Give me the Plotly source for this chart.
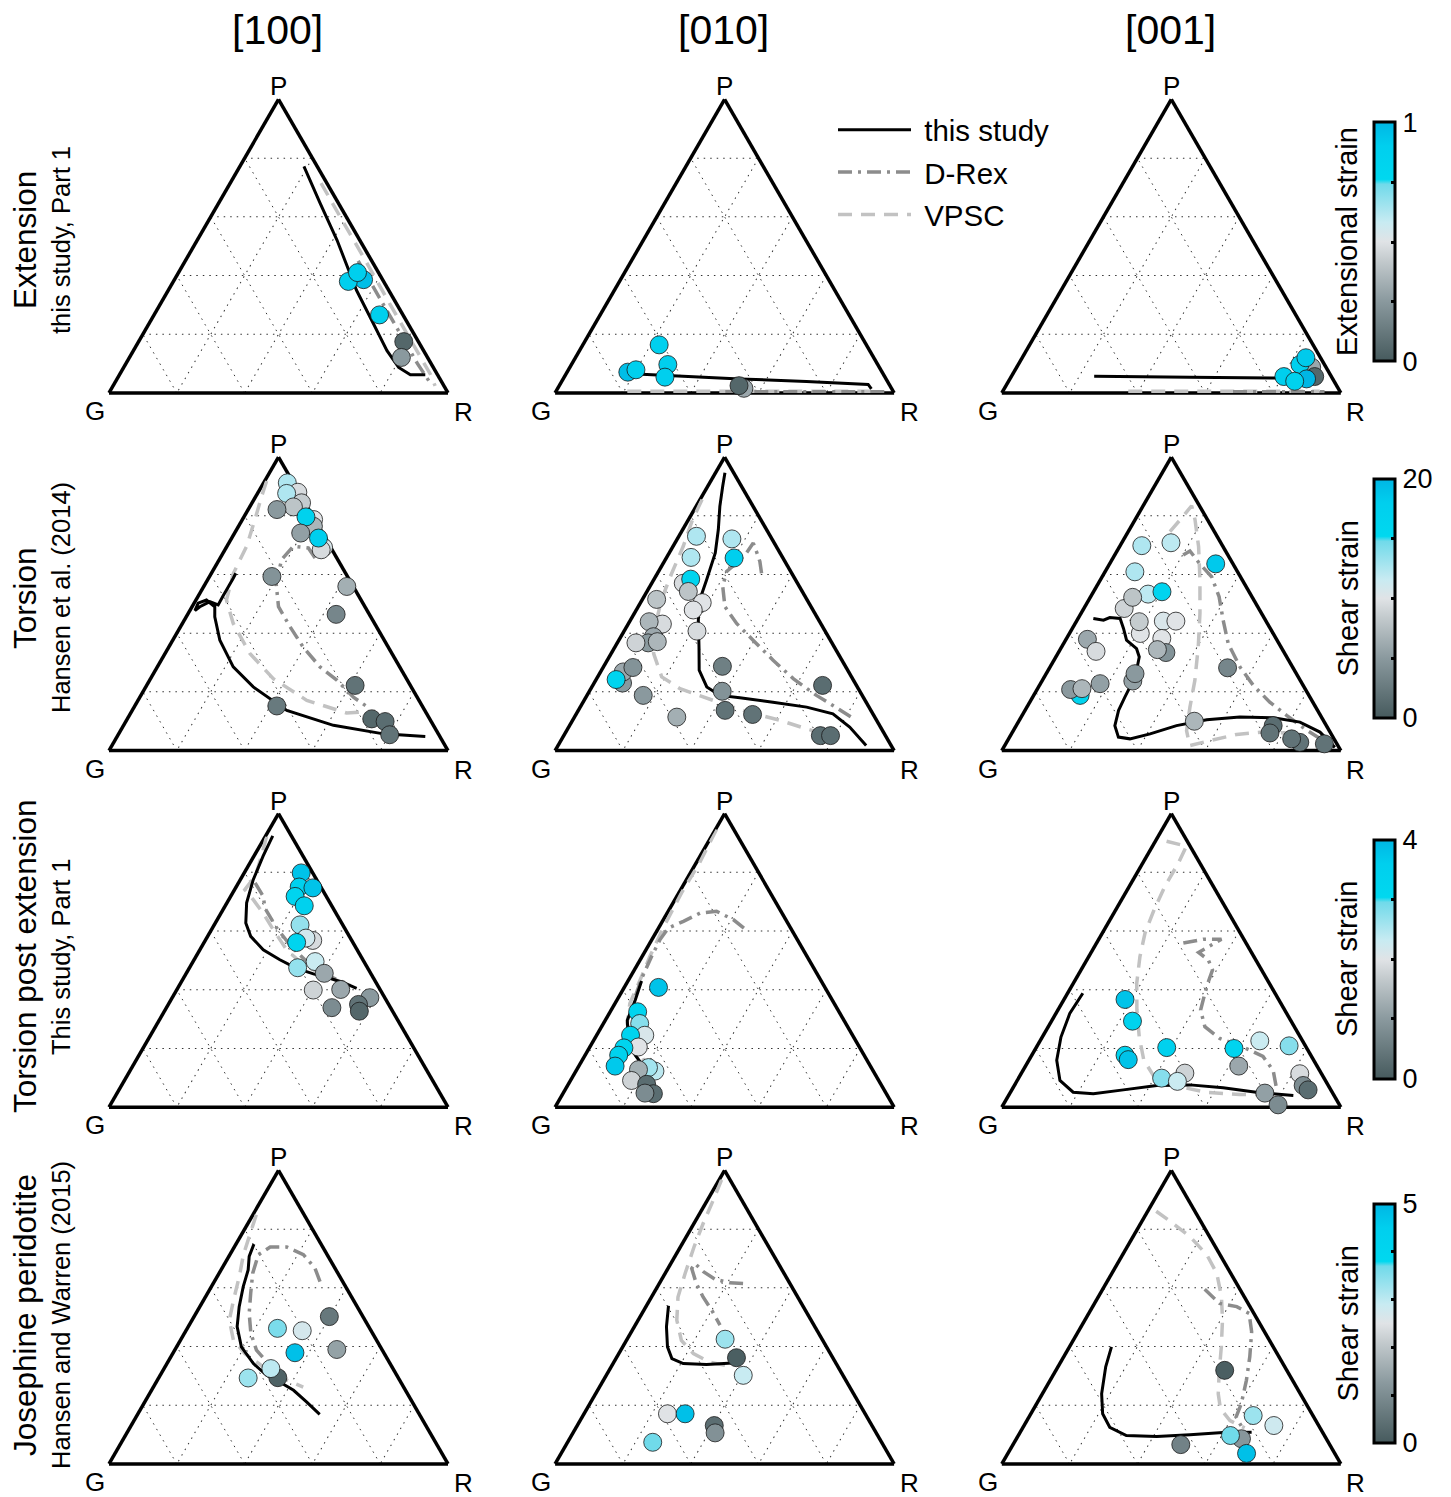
import plotly.graph_objects as go

# Page is rendered inside <body> with an 8px default margin; positions below are
# measured in window pixels and converted through px2x / px2y.
PAGE_OFF = 8
WIN_W, WIN_H = 1451, 1497
FIG_W, FIG_H = WIN_W - 2 * PAGE_OFF, WIN_H - PAGE_OFF
FONT = "Liberation Sans, Arial, sans-serif"

COL_TITLES = ["[100]", "[010]", "[001]"]
ROW_TITLES = ["Extension", "Torsion", "Torsion post extension", "Josephine peridotite"]
ROW_SUBTITLES = ["this study, Part 1", "Hansen et al. (2014)", "This study, Part 1", "Hansen and Warren (2015)"]
CBAR_TITLES = ["Extensional strain", "Shear strain", "Shear strain", "Shear strain"]
CBAR_TICKS = [[0, 0.25, 0.5, 0.75, 1], [0, 5, 10, 15, 20], [0, 1, 2, 3, 4], [0, 1, 2, 3, 4, 5]]
VERTEX_LABELS = ["P", "G", "R"]

# ---- data: points (P, R, strain), curves (P, R); G = 1 - P - R ----
ext_100_pts = [(0.386, 0.558, 0.97), (0.380, 0.516, 0.90), (0.410, 0.528, 0.90), (0.266, 0.665, 0.88),
               (0.175, 0.782, 0.05), (0.121, 0.802, 0.25)]
ext_100_this = [(0.772, 0.189), (0.646, 0.300), (0.521, 0.412), (0.349, 0.556), (0.235, 0.663),
                (0.144, 0.748), (0.087, 0.811), (0.062, 0.858), (0.062, 0.902)]
ext_100_drex = [(0.45, 0.51), (0.30, 0.66), (0.19, 0.77), (0.10, 0.86), (0.03, 0.935)]
ext_100_vpsc = [(0.715, 0.268), (0.60, 0.382), (0.45, 0.532), (0.30, 0.680), (0.15, 0.830), (0.064, 0.916), (0.024, 0.950)]

ext_010_pts = [(0.164, 0.225, 0.88), (0.071, 0.179, 0.97), (0.079, 0.199, 0.88), (0.097, 0.284, 0.90),
               (0.054, 0.297, 0.90), (0.016, 0.549, 0.30), (0.025, 0.530, 0.05)]
ext_010_this = [(0.065, 0.208), (0.048, 0.521), (0.039, 0.722), (0.029, 0.909), (0.014, 0.926)]
ext_010_drex = [(0.004, 0.50), (0.004, 0.97)]
ext_010_vpsc = [(0.006, 0.21), (0.006, 0.50), (0.006, 0.93)]

ext_001_pts = [(0.088, 0.870, 0.30), (0.097, 0.831, 0.88), (0.120, 0.837, 0.92), (0.056, 0.895, 0.05),
               (0.048, 0.875, 1.00), (0.056, 0.804, 0.90), (0.040, 0.844, 0.85)]
ext_001_this = [(0.057, 0.244), (0.054, 0.528), (0.051, 0.785)]
ext_001_drex = [(0.004, 0.68), (0.004, 0.95)]
ext_001_vpsc = [(0.006, 0.37), (0.006, 0.65), (0.006, 0.935)]

tor_100_pts = [(0.912, 0.070, 12.5), (0.880, 0.117, 9.5), (0.876, 0.086, 12.5), (0.844, 0.146, 8.5),
               (0.830, 0.129, 8), (0.821, 0.085, 5), (0.787, 0.210, 10), (0.764, 0.221, 7),
               (0.796, 0.183, 17), (0.741, 0.195, 5.5), (0.692, 0.287, 10.5), (0.684, 0.284, 9.5),
               (0.724, 0.256, 18), (0.593, 0.184, 4.5), (0.559, 0.422, 6.5), (0.464, 0.438, 3.5),
               (0.222, 0.615, 2), (0.152, 0.419, 2.5), (0.108, 0.721, 1), (0.099, 0.765, 1.5),
               (0.054, 0.801, 2)]
tor_100_this = [(0.048, 0.909), (0.057, 0.781), (0.086, 0.619), (0.137, 0.456), (0.217, 0.317),
                (0.285, 0.224), (0.376, 0.139), (0.456, 0.084), (0.490, 0.067), (0.513, 0.031),
                (0.502, 0.012), (0.477, 0.015), (0.490, 0.023), (0.507, 0.044), (0.496, 0.074),
                (0.525, 0.073), (0.559, 0.073), (0.587, 0.073), (0.604, 0.072)]
tor_100_drex = [(0.656, 0.280), (0.690, 0.243), (0.696, 0.196), (0.650, 0.184), (0.570, 0.208),
                (0.490, 0.255), (0.422, 0.323), (0.353, 0.396), (0.285, 0.480), (0.240, 0.552),
                (0.182, 0.630), (0.143, 0.698)]
tor_100_vpsc = [(0.918, 0.006), (0.867, 0.017), (0.787, 0.037), (0.696, 0.058), (0.604, 0.065),
                (0.513, 0.090), (0.433, 0.150), (0.331, 0.250), (0.245, 0.362), (0.171, 0.498),
                (0.128, 0.637), (0.135, 0.718)]

tor_010_pts = [(0.730, 0.052, 12.5), (0.721, 0.161, 12.5), (0.656, 0.200, 18), (0.658, 0.072, 12.5),
               (0.570, 0.093, 9.5), (0.584, 0.108, 16.5), (0.542, 0.122, 8), (0.504, 0.182, 10),
               (0.479, 0.168, 10), (0.407, 0.215, 9.5), (0.515, 0.042, 8), (0.431, 0.101, 9.5),
               (0.439, 0.058, 7), (0.388, 0.096, 6), (0.367, 0.091, 5), (0.371, 0.116, 7),
               (0.367, 0.055, 9), (0.230, 0.084, 5), (0.268, 0.067, 6), (0.283, 0.088, 4.5),
               (0.242, 0.059, 16.5), (0.188, 0.166, 5), (0.114, 0.302, 6.5), (0.287, 0.350, 3),
               (0.202, 0.392, 4.5), (0.137, 0.433, 2), (0.123, 0.521, 2), (0.222, 0.678, 1.5),
               (0.051, 0.757, 1.5), (0.051, 0.787, 1.5)]
tor_010_this = [(0.946, 0.028), (0.901, 0.044), (0.832, 0.070), (0.753, 0.105), (0.673, 0.136),
                (0.582, 0.156), (0.513, 0.170), (0.445, 0.200), (0.353, 0.248), (0.274, 0.288),
                (0.217, 0.339), (0.188, 0.392), (0.180, 0.455), (0.165, 0.560), (0.148, 0.668),
                (0.125, 0.757), (0.080, 0.829), (0.017, 0.909)]
tor_010_drex = [(0.604, 0.307), (0.644, 0.282), (0.678, 0.255), (0.707, 0.231), (0.673, 0.228),
                (0.639, 0.216), (0.610, 0.201), (0.559, 0.215), (0.490, 0.256), (0.433, 0.319),
                (0.376, 0.396), (0.308, 0.489), (0.245, 0.580), (0.188, 0.677), (0.146, 0.757),
                (0.114, 0.817)]
tor_010_vpsc = [(0.855, 0.006), (0.787, 0.012), (0.696, 0.030), (0.604, 0.042), (0.513, 0.057),
                (0.422, 0.084), (0.331, 0.125), (0.251, 0.189), (0.211, 0.263), (0.171, 0.381),
                (0.133, 0.498), (0.103, 0.612), (0.074, 0.705), (0.057, 0.762)]

tor_001_pts = [(0.698, 0.064, 12.5), (0.708, 0.145, 12), (0.636, 0.313, 18.5), (0.609, 0.088, 12.5),
               (0.533, 0.165, 12), (0.541, 0.202, 16.5), (0.484, 0.119, 9), (0.522, 0.125, 8),
               (0.399, 0.209, 10), (0.439, 0.186, 8.5), (0.441, 0.256, 10.5), (0.441, 0.293, 10),
               (0.382, 0.281, 10), (0.334, 0.317, 4.5), (0.344, 0.287, 7), (0.379, 0.063, 6),
               (0.338, 0.109, 9.5), (0.237, 0.268, 5.5), (0.262, 0.262, 5), (0.228, 0.176, 5.5),
               (0.188, 0.137, 16.5), (0.208, 0.099, 5), (0.211, 0.131, 7), (0.282, 0.525, 3.5),
               (0.100, 0.518, 7), (0.085, 0.758, 1.5), (0.060, 0.761, 2), (0.028, 0.865, 2),
               (0.040, 0.835, 2), (0.023, 0.940, 2)]
tor_001_this = [(0.450, 0.045), (0.444, 0.078), (0.453, 0.092), (0.450, 0.124), (0.416, 0.151),
                (0.376, 0.180), (0.347, 0.224), (0.319, 0.246), (0.273, 0.261), (0.228, 0.269),
                (0.182, 0.272), (0.137, 0.276), (0.085, 0.291), (0.046, 0.321), (0.040, 0.358),
                (0.057, 0.409), (0.085, 0.473), (0.105, 0.552), (0.114, 0.645), (0.112, 0.745),
                (0.097, 0.831), (0.063, 0.907), (0.011, 0.977)]
tor_001_drex = [(0.666, 0.202), (0.680, 0.215), (0.636, 0.266), (0.592, 0.323), (0.524, 0.379),
                (0.444, 0.431), (0.364, 0.486), (0.285, 0.560), (0.222, 0.631), (0.165, 0.708),
                (0.120, 0.780), (0.074, 0.857), (0.034, 0.931)]
tor_001_vpsc = [(0.746, 0.123), (0.786, 0.133), (0.834, 0.143), (0.786, 0.177), (0.695, 0.233),
                (0.581, 0.294), (0.467, 0.351), (0.353, 0.403), (0.239, 0.450), (0.148, 0.481),
                (0.068, 0.511), (0.017, 0.546), (0.034, 0.597), (0.055, 0.665), (0.063, 0.740),
                (0.059, 0.820)]

tpe_100_pts = [(0.798, 0.168, 3.8), (0.750, 0.186, 3.5), (0.747, 0.228, 3.8), (0.718, 0.190, 3.3),
               (0.686, 0.233, 3.5), (0.621, 0.253, 2.7), (0.568, 0.317, 1.9), (0.576, 0.293, 2.2),
               (0.561, 0.273, 3.3), (0.496, 0.360, 2.3), (0.475, 0.319, 2.7), (0.456, 0.407, 1.2),
               (0.399, 0.403, 1.8), (0.401, 0.483, 1.2), (0.373, 0.583, 1.0), (0.350, 0.561, 0.4),
               (0.327, 0.575, 0.2), (0.339, 0.488, 0.8)]
tpe_100_this = [(0.924, 0.021), (0.855, 0.027), (0.775, 0.038), (0.696, 0.058), (0.627, 0.090),
                (0.582, 0.127), (0.536, 0.187), (0.502, 0.253), (0.473, 0.317), (0.454, 0.376),
                (0.439, 0.432), (0.424, 0.480), (0.405, 0.528)]
tpe_100_drex = [(0.764, 0.049), (0.718, 0.096), (0.678, 0.121), (0.610, 0.190), (0.553, 0.257),
                (0.496, 0.335), (0.445, 0.430), (0.416, 0.503)]
tpe_100_vpsc = [(0.921, 0.004), (0.855, 0.022), (0.787, 0.038), (0.741, 0.030), (0.707, 0.072),
                (0.661, 0.124), (0.604, 0.183), (0.536, 0.256), (0.485, 0.331), (0.445, 0.420),
                (0.416, 0.503)]

tpe_010_pts = [(0.408, 0.101, 3.8), (0.325, 0.081, 3.3), (0.285, 0.107, 2.8), (0.245, 0.142, 2.1),
               (0.245, 0.100, 3.3), (0.205, 0.143, 2.0), (0.202, 0.102, 3.3), (0.177, 0.099, 3.4),
               (0.140, 0.107, 3.7), (0.123, 0.233, 2.4), (0.135, 0.208, 2.6), (0.128, 0.182, 1.3),
               (0.091, 0.180, 1.8), (0.078, 0.231, 0.3), (0.046, 0.267, 0.3), (0.048, 0.241, 0.8)]
tpe_010_this = [(0.430, 0.040), (0.365, 0.054), (0.296, 0.065), (0.228, 0.102), (0.177, 0.148),
                (0.148, 0.181)]
tpe_010_drex = [(0.610, 0.252), (0.639, 0.206), (0.667, 0.143), (0.661, 0.097), (0.633, 0.062),
                (0.610, 0.029), (0.570, 0.024), (0.513, 0.028), (0.439, 0.036), (0.376, 0.048)]
tpe_010_vpsc = [(0.946, 0.003), (0.832, 0.010), (0.730, 0.008), (0.616, 0.013), (0.513, 0.023),
                (0.433, 0.034), (0.353, 0.044), (0.285, 0.070), (0.217, 0.127), (0.160, 0.182),
                (0.125, 0.203)]

tpe_001_pts = [(0.367, 0.180, 3.8), (0.293, 0.239, 3.4), (0.177, 0.275, 3.4), (0.162, 0.292, 3.8),
               (0.203, 0.385, 3.5), (0.116, 0.482, 1.8), (0.099, 0.422, 2.8), (0.088, 0.474, 2.3),
               (0.200, 0.585, 3.3), (0.140, 0.629, 1.2), (0.226, 0.648, 2.3), (0.209, 0.743, 2.8),
               (0.114, 0.822, 1.9), (0.074, 0.852, 0.8), (0.059, 0.874, 0.3), (0.048, 0.752, 1.1),
               (0.008, 0.811, 0.8)]
tpe_001_this = [(0.388, 0.045), (0.319, 0.041), (0.239, 0.055), (0.160, 0.082), (0.091, 0.126),
                (0.051, 0.185), (0.046, 0.247), (0.059, 0.329), (0.074, 0.420), (0.076, 0.517),
                (0.066, 0.620), (0.051, 0.725), (0.040, 0.840)]
tpe_001_drex = [(0.559, 0.256), (0.572, 0.308), (0.572, 0.362), (0.553, 0.343), (0.527, 0.317),
                (0.502, 0.358), (0.467, 0.388), (0.410, 0.399), (0.331, 0.421), (0.274, 0.462),
                (0.234, 0.526), (0.205, 0.609), (0.173, 0.684), (0.125, 0.738), (0.057, 0.783)]
tpe_001_vpsc = [(0.906, 0.033), (0.889, 0.100), (0.832, 0.105), (0.753, 0.105), (0.673, 0.113),
                (0.593, 0.126), (0.513, 0.151), (0.422, 0.187), (0.331, 0.233), (0.239, 0.286),
                (0.160, 0.339), (0.108, 0.393), (0.074, 0.469), (0.051, 0.578), (0.043, 0.680),
                (0.043, 0.788)]

jos_100_pts = [(0.502, 0.399, 0.6), (0.390, 0.477, 1.4), (0.462, 0.266, 3.6), (0.454, 0.343, 2.7),
               (0.379, 0.359, 4.8), (0.293, 0.264, 3.3), (0.294, 0.351, 0.15), (0.325, 0.315, 3.0)]
jos_100_this = [(0.749, 0.053), (0.707, 0.060), (0.661, 0.080), (0.604, 0.094), (0.536, 0.116),
                (0.468, 0.144), (0.399, 0.191), (0.342, 0.255), (0.302, 0.314), (0.279, 0.364),
                (0.251, 0.419), (0.211, 0.478), (0.169, 0.537)]
jos_100_drex = [(0.621, 0.312), (0.667, 0.274), (0.713, 0.217), (0.739, 0.155), (0.739, 0.106),
                (0.713, 0.084), (0.650, 0.099), (0.582, 0.127), (0.513, 0.157), (0.445, 0.196),
                (0.388, 0.241), (0.348, 0.291)]
jos_100_vpsc = [(0.849, 0.010), (0.781, 0.025), (0.713, 0.040), (0.639, 0.065), (0.559, 0.088),
                (0.490, 0.110), (0.422, 0.156), (0.376, 0.213), (0.331, 0.290), (0.291, 0.369),
                (0.262, 0.442)]

jos_010_pts = [(0.425, 0.289, 3.3), (0.362, 0.354, 0.1), (0.302, 0.404, 2.9), (0.171, 0.246, 2.5),
               (0.171, 0.298, 4.8), (0.131, 0.404, 0.4), (0.106, 0.419, 1.1), (0.074, 0.251, 3.7)]
jos_010_this = [(0.539, 0.065), (0.467, 0.095), (0.399, 0.132), (0.359, 0.165), (0.342, 0.207),
                (0.339, 0.277), (0.344, 0.352)]
jos_010_drex = [(0.615, 0.247), (0.617, 0.207), (0.629, 0.158), (0.655, 0.110), (0.683, 0.071),
                (0.666, 0.070), (0.615, 0.109), (0.569, 0.152), (0.524, 0.200), (0.473, 0.250)]
jos_010_vpsc = [(0.968, 0.007), (0.900, 0.017), (0.820, 0.027), (0.740, 0.040), (0.649, 0.059),
                (0.569, 0.078), (0.490, 0.114), (0.421, 0.162), (0.376, 0.220), (0.347, 0.283),
                (0.336, 0.333)]

jos_001_pts = [(0.319, 0.498, 0.1), (0.165, 0.659, 3.3), (0.131, 0.737, 2.8), (0.086, 0.664, 1.2),
               (0.097, 0.626, 3.7), (0.036, 0.704, 4.8), (0.066, 0.495, 0.8)]
jos_001_this = [(0.399, 0.124), (0.331, 0.141), (0.239, 0.175), (0.171, 0.212), (0.125, 0.256),
                (0.097, 0.319), (0.094, 0.410), (0.100, 0.505), (0.107, 0.599), (0.108, 0.683)]
jos_001_drex = [(0.595, 0.301), (0.547, 0.369), (0.536, 0.425), (0.513, 0.473), (0.450, 0.512),
                (0.365, 0.549), (0.285, 0.579), (0.205, 0.604), (0.160, 0.611), (0.128, 0.643)]
jos_001_vpsc = [(0.861, 0.025), (0.827, 0.083), (0.775, 0.167), (0.713, 0.248), (0.650, 0.309),
                (0.570, 0.363), (0.490, 0.406), (0.399, 0.448), (0.308, 0.487), (0.239, 0.519),
                (0.188, 0.551), (0.148, 0.599), (0.123, 0.655)]

PANELS = [
    [(ext_100_pts, ext_100_this, ext_100_drex, ext_100_vpsc),
     (ext_010_pts, ext_010_this, ext_010_drex, ext_010_vpsc),
     (ext_001_pts, ext_001_this, ext_001_drex, ext_001_vpsc)],
    [(tor_100_pts, tor_100_this, tor_100_drex, tor_100_vpsc),
     (tor_010_pts, tor_010_this, tor_010_drex, tor_010_vpsc),
     (tor_001_pts, tor_001_this, tor_001_drex, tor_001_vpsc)],
    [(tpe_100_pts, tpe_100_this, tpe_100_drex, tpe_100_vpsc),
     (tpe_010_pts, tpe_010_this, tpe_010_drex, tpe_010_vpsc),
     (tpe_001_pts, tpe_001_this, tpe_001_drex, tpe_001_vpsc)],
    [(jos_100_pts, jos_100_this, jos_100_drex, jos_100_vpsc),
     (jos_010_pts, jos_010_this, jos_010_drex, jos_010_vpsc),
     (jos_001_pts, jos_001_this, jos_001_drex, jos_001_vpsc)],
]

# ---- layout geometry (window pixels) ----
COL_CX = [278.5, 724.6, 1171.3]
ROW_CY = [246.2, 603.8, 960.4, 1317.2]
TRI_W = 339.0
TRI_H = TRI_W * 3 ** 0.5 / 2
CBAR_CY = [242, 598.5, 959, 1323.5]
ROW_LABEL_Y = [240, 598, 957, 1315]


def px2x(x):
    return (x - PAGE_OFF) / FIG_W


def px2y(y):
    return 1 - (y - PAGE_OFF) / FIG_H


COLORSCALE = [
    [0.0, '#465a5d'], [0.25, '#8a999e'], [0.42, '#c3cacd'], [0.5, '#e0e3e6'],
    [0.58, '#c8ebf2'], [0.74, '#70daea'], [0.76, '#00d8ef'], [0.9, '#00cfee'], [1.0, '#00b6e4']]

LINE_STYLES = {
    "this study": dict(color='black', width=3, dash='solid'),
    "D-Rex": dict(color='#8c8c8c', width=3.5, dash='14px,6px,3px,6px'),
    "VPSC": dict(color='#c2c2c2', width=3.5, dash='14px,9px'),
}


def split(pairs):
    P = [p for p, r in pairs]
    R = [r for p, r in pairs]
    G = [1 - p - r for p, r in pairs]
    return P, G, R


fig = go.Figure()
layout = dict()
annotations = []

for ri in range(4):
    for ci in range(3):
        k = ri * 3 + ci + 1
        sub = 'ternary' if k == 1 else f'ternary{k}'
        cx, cy = COL_CX[ci], ROW_CY[ri]
        x0, x1 = px2x(cx - TRI_W / 2), px2x(cx + TRI_W / 2)
        y0, y1 = px2y(cy + TRI_H / 2 + 2), px2y(cy - TRI_H / 2 - 2)
        ax = dict(min=0, showgrid=True, gridcolor='#333333', gridwidth=1.4, griddash='1.5px,5px',
                  linecolor='black', linewidth=3.5, showline=True, showticklabels=False, ticks='',
                  tickmode='linear', tick0=0, dtick=0.2, title=dict(text=''), layer='below traces')
        layout[sub] = dict(domain=dict(x=[x0, x1], y=[y0, y1]), sum=1, bgcolor='white',
                           aaxis=ax, baxis=ax, caxis=ax)
        pts, this, drex, vpsc = PANELS[ri][ci]
        first = (k == 1)
        for name, data, rank in (("VPSC", vpsc, 3), ("D-Rex", drex, 2), ("this study", this, 1)):
            P, G, R = split(data)
            fig.add_trace(go.Scatterternary(
                a=P, b=G, c=R, mode='lines', subplot=sub, name='\u00a0' + name, legendgroup=name,
                line=LINE_STYLES[name], showlegend=first, legendrank=rank, hoverinfo='skip'))
        P, G, R = split([(p, r) for p, r, s in pts])
        S = [s for p, r, s in pts]
        cax = 'coloraxis' if ri == 0 else f'coloraxis{ri + 1}'
        fig.add_trace(go.Scatterternary(
            a=P, b=G, c=R, mode='markers', subplot=sub, showlegend=False, cliponaxis=False,
            marker=dict(size=18, color=S, coloraxis=cax, line=dict(color='#1a1a1a', width=0.8))))
        apex_y = cy - TRI_H / 2
        base_y = cy + TRI_H / 2
        for lab, (px, py) in zip(VERTEX_LABELS, [(cx, apex_y - 13), (cx - TRI_W / 2 - 14, base_y + 18),
                                                 (cx + TRI_W / 2 + 15, base_y + 19)]):
            annotations.append(dict(text=lab, x=px2x(px), y=px2y(py), xref='paper', yref='paper',
                                    showarrow=False, xanchor='center', yanchor='middle',
                                    font=dict(size=26, family=FONT, color='black')))

for ri in range(4):
    cax = 'coloraxis' if ri == 0 else f'coloraxis{ri + 1}'
    ticks = CBAR_TICKS[ri]
    layout[cax] = dict(
        colorscale=COLORSCALE, cmin=ticks[0], cmax=ticks[-1],
        colorbar=dict(thickness=21, thicknessmode='pixels', len=239, lenmode='pixels',
                      x=px2x(1374), xanchor='left', xpad=0, y=px2y(CBAR_CY[ri]),
                      yanchor='middle', ypad=0, outlinewidth=3, outlinecolor='black',
                      tickmode='array', tickvals=ticks,
                      ticktext=[str(ticks[0])] + [''] * (len(ticks) - 2) + [str(ticks[-1])],
                      ticks='inside', ticklen=5, tickwidth=3, tickcolor='black',
                      tickfont=dict(size=27, family=FONT, color='black'), title=dict(text='')))
    annotations.append(dict(text=CBAR_TITLES[ri], x=px2x(1347), y=px2y(CBAR_CY[ri]),
                            xref='paper', yref='paper', showarrow=False, textangle=-90,
                            xanchor='center', yanchor='middle',
                            font=dict(size=29, family=FONT, color='black')))

for ci, t in enumerate(COL_TITLES):
    annotations.append(dict(text=t, x=px2x(COL_CX[ci] - 1), y=px2y(30), xref='paper', yref='paper',
                            showarrow=False, xanchor='center', yanchor='middle',
                            font=dict(size=41, family=FONT, color='black')))

for ri in range(4):
    annotations.append(dict(text=ROW_TITLES[ri], x=px2x(25), y=px2y(ROW_LABEL_Y[ri]),
                            xref='paper', yref='paper', showarrow=False, textangle=-90,
                            xanchor='center', yanchor='middle',
                            font=dict(size=31.5, family=FONT, color='black')))
    annotations.append(dict(text=ROW_SUBTITLES[ri], x=px2x(61), y=px2y(ROW_LABEL_Y[ri]),
                            xref='paper', yref='paper', showarrow=False, textangle=-90,
                            xanchor='center', yanchor='middle',
                            font=dict(size=25.5, family=FONT, color='black')))

fig.update_layout(
    **layout,
    width=FIG_W, height=FIG_H, autosize=False,
    margin=dict(l=0, r=0, t=0, b=0),
    paper_bgcolor='white', plot_bgcolor='white',
    annotations=annotations,
    font=dict(family=FONT, color='black'),
    legend=dict(x=px2x(833), y=px2y(104), xanchor='left', yanchor='top',
                font=dict(size=29.5, family=FONT, color='black'), itemwidth=73,
                bgcolor='rgba(0,0,0,0)', tracegroupgap=1, traceorder='grouped'),
)

fig.write_html("out.html")
